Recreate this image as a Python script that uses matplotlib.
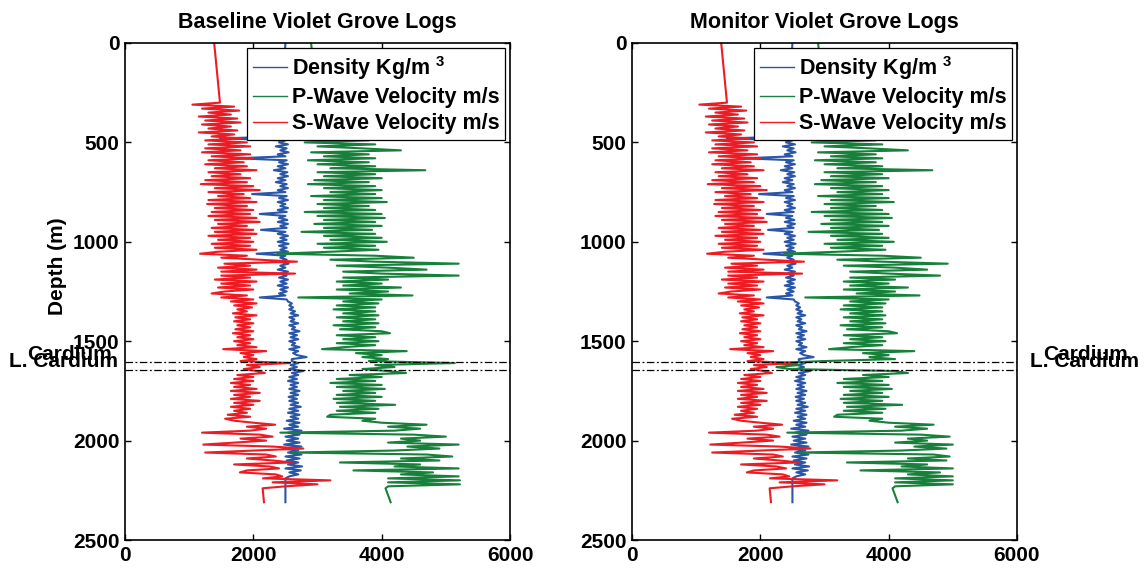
import numpy as np
import matplotlib
matplotlib.use('Agg')
import matplotlib.pyplot as plt

plt.rcParams['font.family'] = ['Liberation Sans', 'DejaVu Sans']
plt.rcParams['font.weight'] = 'bold'
plt.rcParams['font.size'] = 15
plt.rcParams['mathtext.fontset'] = 'custom'
plt.rcParams['mathtext.rm'] = 'Liberation Sans:bold'
plt.rcParams['mathtext.bf'] = 'Liberation Sans:bold'

# log sampling: one value at surface, samples every 10 m from 300 to 2240 m, one at TD
SURFACE_DEPTH = 0
FIRST_SAMPLE = 300
LAST_SAMPLE = 2240
SAMPLE_STEP = 10
TD_DEPTH = 2310

# S-wave velocity (m/s), baseline survey; rows are 100 m of samples
baseline_vs = [1390,
    1480, 1050, 1700, 1200, 1780, 1300, 1650, 1150, 1750, 1250,
    1800, 1200, 1650, 1300, 1750, 1150, 1700, 1350, 1820, 1250,
    1900, 1300, 1950, 1250, 1800, 1200, 1950, 1350, 2000, 1300,
    1850, 1250, 1900, 1400, 2050, 1300, 1800, 1350, 1950, 1250,
    1900, 1180, 2000, 1400, 2100, 1300, 1850, 1450, 1950, 1300,
    2050, 1280, 1900, 1400, 2000, 1350, 1950, 1300, 2050, 1400,
    2100, 1450, 1900, 1350, 2000, 1400, 2050, 1300, 1950, 1450,
    2000, 1350, 1950, 1400, 2050, 1450, 1170, 1900, 1500, 2100,
    2680, 1550, 1950, 1450, 2050, 1500, 2650, 1500, 1950, 1400,
    2050, 1500, 1950, 1450, 2000, 1550, 1350, 1900, 1500, 2000,
    1650, 2050, 1700, 1980, 1750, 1900, 1680, 2050, 1720, 1950,
    1700, 2000, 1750, 1950, 1720, 2000, 1680, 1950, 1750, 2000,
    1700, 1950, 1750, 2050, 1530, 2200, 1800, 2000, 1850, 2050,
    1800, 2570, 1900, 2100, 1850, 2050, 2180, 1750, 2000, 1700,
    2000, 1650, 1950, 1700, 2050, 1650, 2100, 1700, 1950, 1650,
    2100, 1700, 2000, 1650, 1950, 1700, 1900, 1600, 1950, 1560,
    1700, 2000, 2340, 1900, 2200, 1950, 1200, 2100, 2300, 1800,
    2200, 1700, 1220, 2300, 2780, 2000, 1250, 2200, 2350, 1900,
    2300, 2600, 1700, 2250, 2400, 1900, 1790, 2350, 2450, 2150,
    3200, 2300, 3000, 2500, 2145,
    2166]

# density (kg/m3), baseline survey
baseline_rho = [2500,
    2450, 2520, 2400, 2550, 2380, 2500, 2420, 2550, 2400, 2520,
    2350, 2540, 2420, 2500, 2380, 2550, 2400, 2520, 1480, 2500,
    2400, 2540, 2350, 2520, 2420, 2550, 2380, 2500, 1740, 2520,
    2400, 2540, 2380, 2500, 2320, 2530, 2420, 2540, 2380, 2500,
    2350, 2520, 2420, 2540, 2380, 2500, 1980, 2520, 2400, 2540,
    2380, 2500, 2420, 2540, 2380, 2520, 2100, 2500, 2400, 2530,
    2380, 2540, 2420, 2520, 2120, 2500, 2380, 2540, 2420, 2520,
    2380, 2550, 2400, 2520, 2420, 2540, 2050, 2500, 2420, 2520,
    2400, 2550, 2420, 2500, 2380, 2540, 2420, 2520, 2400, 2540,
    2420, 2520, 2380, 2540, 2420, 2520, 2400, 2500, 2100, 2520,
    2540, 2600, 2560, 2620, 2560, 2650, 2580, 2700, 2560, 2640,
    2580, 2700, 2560, 2650, 2600, 2720, 2560, 2680, 2580, 2700,
    2560, 2650, 2600, 2720, 2560, 2700, 2620, 2680, 2830, 2600,
    2600, 2700, 2580, 2680, 2560, 2780, 2600, 2700, 2560, 2680,
    2540, 2700, 2580, 2680, 2560, 2720, 2580, 2700, 2550, 2680,
    2560, 2700, 2580, 2740, 2560, 2700, 2540, 2720, 2580, 2700,
    2520, 2720, 2560, 2700, 2480, 2750, 2540, 2720, 2500, 2700,
    2520, 2720, 2480, 2750, 2460, 2700, 2540, 2750, 2500, 2720,
    2520, 2700, 2540, 2760, 2500, 2740, 2560, 2700, 2560, 2500,
    2500, 2500, 2500, 2500, 2500,
    2500]

# P-wave velocity (m/s), baseline survey
baseline_vp = [2900,
    3000, 3500, 2900, 3600, 3100, 3700, 3000, 3500, 2950, 3600,
    3100, 3700, 2950, 3600, 3100, 3800, 3000, 3700, 2900, 3800,
    2800, 3900, 3000, 3700, 4300, 2900, 3800, 3100, 3900, 2850,
    3800, 3000, 3900, 3200, 4680, 3000, 3900, 3100, 4000, 2950,
    3800, 2850, 3900, 3100, 4000, 3200, 3900, 2900, 4000, 3100,
    4080, 3000, 3800, 3100, 3900, 2800, 4000, 3000, 4050, 3100,
    3900, 2950, 4000, 3100, 3850, 2750, 3900, 3100, 4000, 3200,
    4080, 3000, 3900, 3100, 3950, 3200, 2370, 3900, 4500, 3200,
    3900, 5200, 3300, 4100, 4700, 3400, 4000, 5200, 3400, 4100,
    3300, 4000, 3400, 4300, 3300, 4100, 3500, 4480, 2700, 4000,
    3400, 3950, 3300, 3900, 3250, 3900, 3400, 3950, 3300, 3900,
    3400, 3950, 3250, 3900, 3350, 4000, 4130, 3300, 3900, 3400,
    3950, 3300, 3900, 3400, 3070, 4390, 3600, 4000, 3700, 4100,
    3800, 5140, 3900, 4200, 3700, 4100, 4380, 3500, 4000, 3300,
    3900, 3200, 4000, 3300, 4050, 3400, 3900, 3300, 4000, 3250,
    3900, 3300, 4210, 3350, 3950, 3300, 3900, 3200, 3150, 3900,
    3700, 4000, 4700, 4100, 4600, 4200, 2420, 4500, 5000, 4300,
    4600, 4100, 5200, 4400, 4900, 4200, 2600, 4700, 5100, 4300,
    4900, 3350, 4600, 4200, 5200, 3560, 4800, 4300, 5200, 4100,
    5220, 4100, 5220, 4100, 4060,
    4140]

# P-wave velocity (m/s), monitor survey (slower across the Cardium interval)
monitor_vp = [2900,
    3000, 3500, 2900, 3600, 3100, 3700, 3000, 3500, 2950, 3600,
    3100, 3700, 2950, 3600, 3100, 3800, 3000, 3700, 2900, 3800,
    2800, 3900, 3000, 3700, 4300, 2900, 3800, 3100, 3900, 2850,
    3800, 3000, 3900, 3200, 4680, 3000, 3900, 3100, 4000, 2950,
    3800, 2850, 3900, 3100, 4000, 3200, 3900, 2900, 4000, 3100,
    4080, 3000, 3800, 3100, 3900, 2800, 4000, 3000, 4050, 3100,
    3900, 2950, 4000, 3100, 3850, 2750, 3900, 3100, 4000, 3200,
    4080, 3000, 3900, 3100, 3950, 3200, 2370, 3900, 4500, 3200,
    3900, 4920, 3300, 4100, 4600, 3400, 4000, 4800, 3400, 4100,
    3300, 4000, 3400, 4300, 3300, 4100, 3500, 4480, 2700, 4000,
    3400, 3950, 3300, 3900, 3250, 3900, 3400, 3950, 3300, 3900,
    3400, 3950, 3250, 3900, 3350, 4000, 4130, 3300, 3900, 3400,
    3950, 3300, 3900, 3400, 3070, 4400, 3600, 4000, 3700, 4100,
    2980, 2200, 2600, 2250, 2450, 4100, 4300, 3600, 4000, 3300,
    3900, 3200, 4000, 3300, 4050, 3400, 3900, 3300, 4000, 3250,
    3900, 3300, 4210, 3350, 3950, 3300, 3900, 3200, 3150, 3900,
    3700, 4000, 4700, 4100, 4600, 4200, 2420, 4500, 4950, 4300,
    4600, 4100, 5000, 4400, 4900, 4200, 2600, 4700, 4950, 4300,
    4900, 3350, 4600, 4200, 5000, 3560, 4800, 4300, 5000, 4100,
    5000, 4100, 5000, 4100, 4060,
    4140]

monitor_vs = baseline_vs
monitor_rho = baseline_rho

horizons = ['Cardium', 'L. Cardium']
horizon_depths = [1605, 1645]

panel_titles = ['Baseline Violet Grove Logs', 'Monitor Violet Grove Logs']

RED = '#ed1c24'
GREEN = '#17803a'
BLUE = '#2a56a8'


def log_depths():
    samples = np.arange(FIRST_SAMPLE, LAST_SAMPLE + 1, SAMPLE_STEP)
    return np.concatenate([[SURFACE_DEPTH], samples, [TD_DEPTH]])


def draw_panel(ax, title, rho, vp, vs, label_side):
    depth = log_depths()
    ax.plot(rho, depth, color=BLUE, lw=1.5, label=r'Density Kg/m ${}^{\mathbf{3}}$')
    ax.plot(vp, depth, color=GREEN, lw=1.5, label='P-Wave Velocity m/s')
    ax.plot(vs, depth, color=RED, lw=1.5, label='S-Wave Velocity m/s')

    for d in horizon_depths:
        ax.axhline(d, color='black', lw=0.9, ls=(0, (6, 2, 1.5, 2)))

    if label_side == 'left':
        ax.text(-203, 1595, horizons[0], ha='right', va='baseline', clip_on=False)
        ax.text(-109, 1630, horizons[1], ha='right', va='baseline', clip_on=False)
    else:
        ax.text(6405, 1595, horizons[0], ha='left', va='baseline', clip_on=False)
        ax.text(6202, 1630, horizons[1], ha='left', va='baseline', clip_on=False)

    ax.set_xlim(0, 6000)
    ax.set_ylim(2500, 0)
    ax.set_xticks([0, 2000, 4000, 6000])
    ax.set_yticks([0, 500, 1000, 1500, 2000, 2500])
    ax.tick_params(direction='in', top=True, right=True, length=4, width=1, labelsize=15, pad=4)
    for s in ax.spines.values():
        s.set_linewidth(1.2)
    ax.set_title(title, fontsize=15.5, fontweight='bold', pad=11)

    leg = ax.legend(loc='upper right', fontsize=15.5, handlelength=1.6, handletextpad=0.2,
                    labelspacing=0.25, borderpad=0.25, borderaxespad=0.25,
                    fancybox=False, framealpha=1, edgecolor='black')
    leg.get_frame().set_linewidth(0.9)
    for line in leg.get_lines():
        line.set_linewidth(1.0)


def main():
    fig = plt.figure(figsize=(11.44, 5.70), dpi=100)
    ax1 = fig.add_axes([125 / 1144, 30 / 570, 385 / 1144, 497 / 570])
    ax2 = fig.add_axes([632 / 1144, 30 / 570, 385 / 1144, 497 / 570])

    draw_panel(ax1, panel_titles[0], baseline_rho, baseline_vp, baseline_vs, 'left')
    draw_panel(ax2, panel_titles[1], monitor_rho, monitor_vp, monitor_vs, 'right')

    ax1.set_ylabel('Depth (m)', fontsize=15, fontweight='bold')
    ax1.yaxis.set_label_coords(-0.15, 0.551)

    fig.savefig('out.png', dpi=100)


if __name__ == '__main__':
    main()
